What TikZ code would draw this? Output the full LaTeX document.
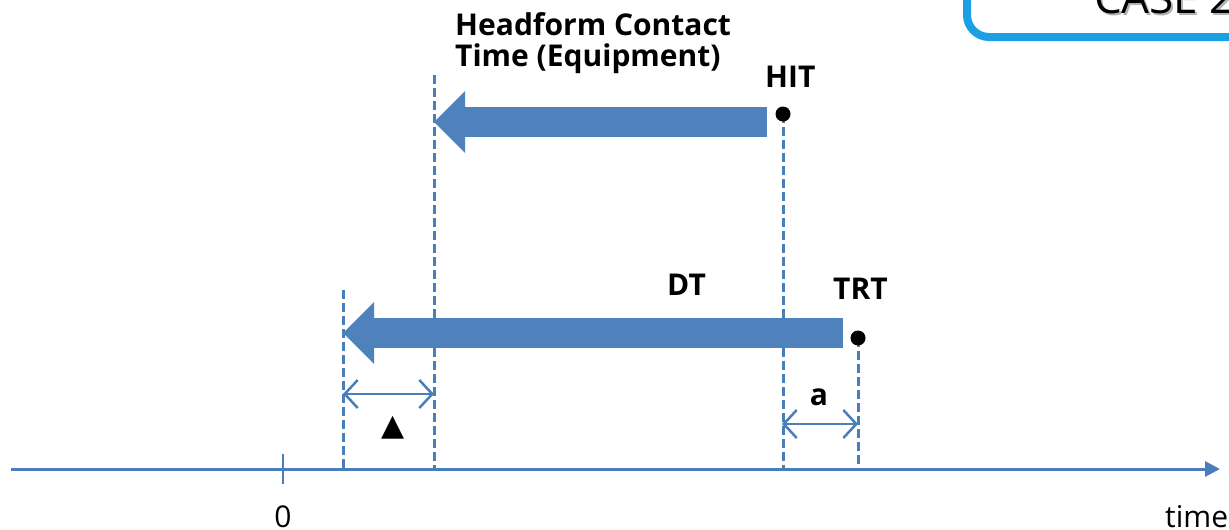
\documentclass[tikz,border=0pt]{standalone}
\usepackage{fontspec}
\setmainfont{Open Sans}
\newfontfamily\symfont{DejaVu Sans}
\usetikzlibrary{arrows.meta}
\definecolor{axisblue}{RGB}{74,126,187}
\definecolor{barblue}{RGB}{79,129,189}
\definecolor{caseblue}{RGB}{29,160,225}
\tikzset{
  guide/.style={axisblue, line width=3pt, dash pattern=on 9pt off 4pt},
  bar/.style={barblue, line width=30pt, -{Triangle[length=31pt,width=60pt]}},
  span/.style={axisblue, line width=2.5pt, {Straight Barb[length=13pt,width=28pt]}-{Straight Barb[length=13pt,width=28pt]}},
  lbl/.style={font=\fontsize{30}{31}\selectfont\bfseries, inner sep=0pt},
  plain/.style={font=\fontsize{30}{31}\selectfont, inner sep=0pt},
  dot/.style={circle, fill=black, inner sep=0pt, minimum size=15pt},
}

\begin{document}
\begin{tikzpicture}[x=1pt,y=-1pt]
\useasboundingbox (0,0) rectangle (1229,530);
%% case box
\draw[caseblue, line width=8pt, rounded corners=22pt] (967,-60) rectangle (1320,37);
\node[plain, font=\fontsize{44}{48}\selectfont, gray!60, anchor=base west] at (1096,15) {CASE 2};
\node[plain, font=\fontsize{44}{48}\selectfont, anchor=base west] (case) at (1094,13) {CASE 2};
%% time axis
\coordinate (axisL) at (11,469);
\coordinate (axisR) at (1220,469);
\draw[axisblue, line width=3pt, -{Triangle[length=15pt,width=15pt]}] (axisL) -- (axisR);
\coordinate (tickT) at (283,454);
\coordinate (tickB) at (283,484);
\draw[axisblue, line width=2.5pt] (tickT) -- (tickB);
\node[plain, anchor=base] (zero) at (283,527) {0};
\node[plain, anchor=base west] (time) at (1165,527) {time};
%% guide lines
\coordinate (hitPt) at (783,114);
\coordinate (trtPt) at (858,338);
\coordinate (dtEnd) at (343,290);
\coordinate (hcEnd) at (434,75);
\draw[guide] (dtEnd) -- (dtEnd |- axisL);
\draw[guide] (hcEnd) -- (hcEnd |- axisL);
\draw[guide] (hitPt) -- (hitPt |- axisL);
\draw[guide] (trtPt) -- (trtPt |- axisL);
%% markers
\node[dot] (hit) at (hitPt) {};
\node[dot] (trt) at (trtPt) {};
\node[lbl, anchor=base west] (hitlbl) at (765,87) {HIT};
\node[lbl, anchor=base west] (trtlbl) at (833,299) {TRT};
%% block arrows
\coordinate (hcTail) at (767,122);
\coordinate (dtTail) at (843,333);
\draw[bar] (hcTail) -- (hcTail -| hcEnd);
\draw[bar] (dtTail) -- (dtTail -| dtEnd);
\node[lbl, anchor=base west, align=left] (hclbl) at (455,66) {Headform Contact\\Time (Equipment)};
\node[lbl, anchor=base west] (dtlbl) at (667,295) {DT};
%% spans
\coordinate (deltaL) at (343,394);
\coordinate (aL) at (782,424);
\draw[span] (deltaL) -- (deltaL -| hcEnd);
\draw[span] (aL) -- (aL -| trtPt);
\node[inner sep=0pt, font=\fontsize{30}{32}\selectfont\symfont] (delta) at (393,428) {▲};
\node[lbl, anchor=base] (albl) at (819,405) {a};
\end{tikzpicture}
\end{document}
